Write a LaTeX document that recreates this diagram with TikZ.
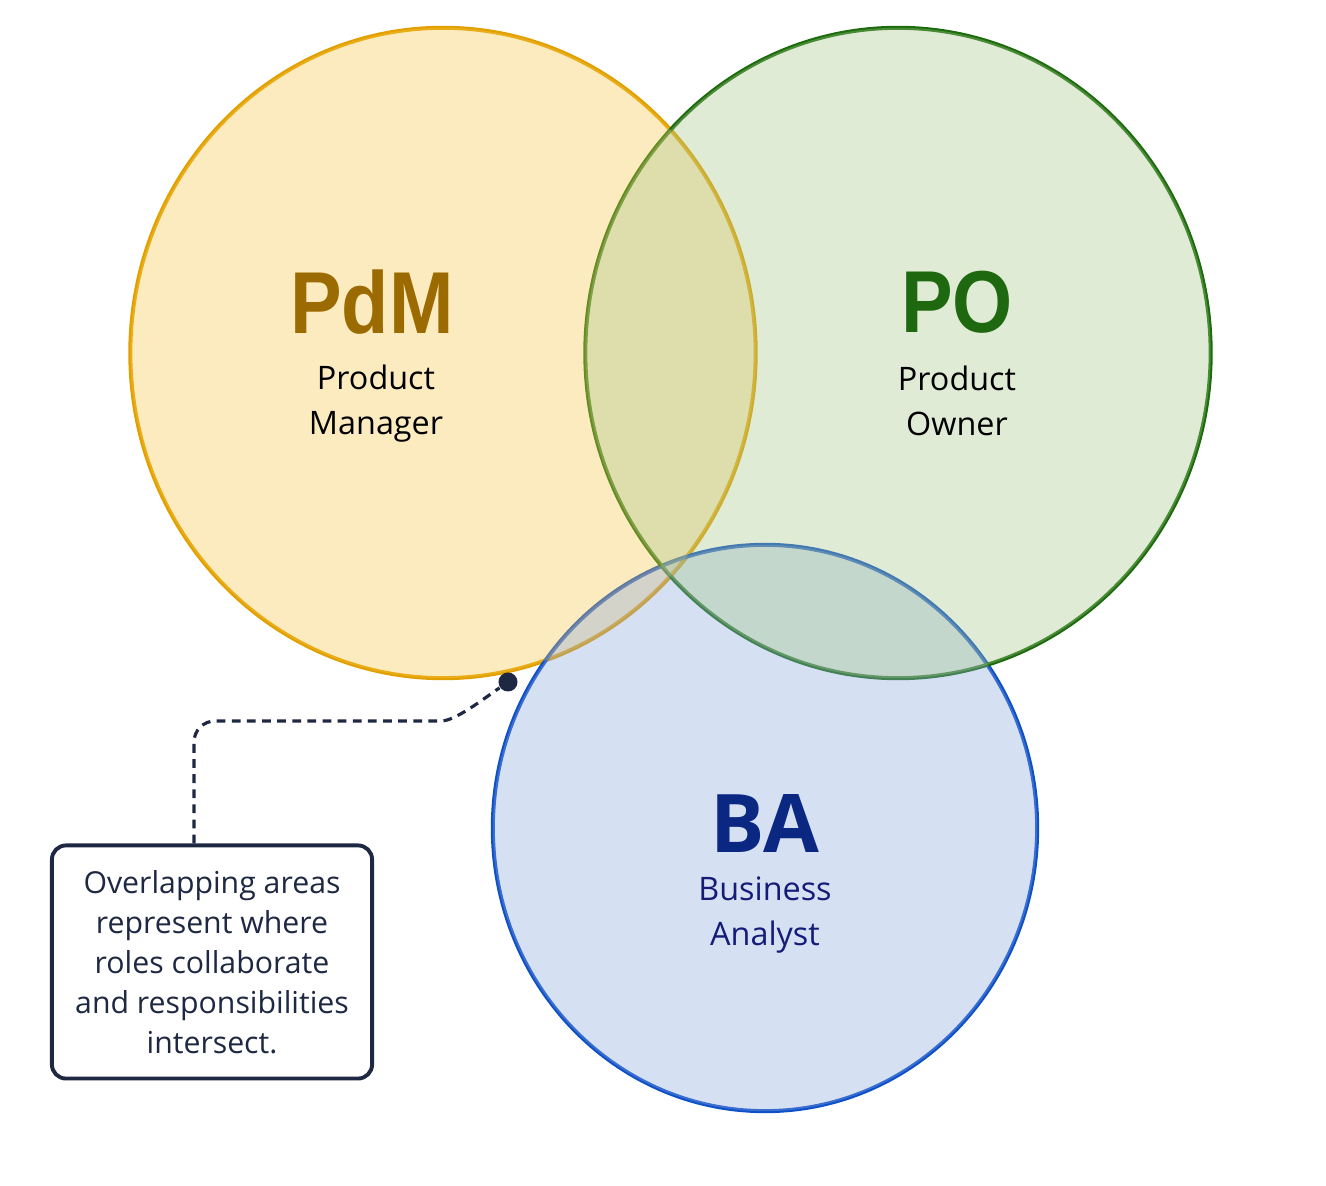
\documentclass[tikz,border=0pt]{standalone}
\usepackage{fontspec}
\setmainfont{Open Sans}
\newfontfamily\abbrfont[FakeStretch=0.88]{Liberation Sans}
\usepackage{tikz}
\usetikzlibrary{positioning, shapes.geometric}

\definecolor{pdmfill}{RGB}{249,198,75}
\definecolor{pdmline}{RGB}{226,160,0}
\definecolor{pdmtext}{RGB}{155,106,0}
\definecolor{pofill}{RGB}{164,198,135}
\definecolor{poline}{RGB}{28,108,14}
\definecolor{potext}{RGB}{30,105,15}
\definecolor{bafill}{RGB}{138,166,221}
\definecolor{baline}{RGB}{14,80,200}
\definecolor{batext}{RGB}{10,40,130}
\definecolor{basub}{RGB}{20,28,120}
\definecolor{notenavy}{RGB}{30,40,66}

\begin{document}
\begin{tikzpicture}[
  x=0.01cm, y=-0.01cm,
  ring/.style={ellipse, draw, line width=1.15pt, inner sep=0pt},
  disc/.style={ellipse, fill opacity=0.35, inner sep=0pt},
  bigrole/.style={minimum width=6.25cm, minimum height=6.5cm},
  smallrole/.style={minimum width=5.44cm, minimum height=5.66cm},
  abbr/.style={font=\abbrfont\bfseries\fontsize{25}{25}\selectfont},
  sub/.style={align=center, font=\fontsize{9.2}{12.8}\selectfont},
  note/.style={draw=notenavy, line width=1.1pt, rounded corners=4pt, align=center, fill=white,
    text=notenavy, minimum width=3.2cm, minimum height=2.33cm, font=\fontsize{8.6}{11.4}\selectfont},
  leader/.style={draw=notenavy, line width=0.9pt, dash pattern=on 2.5pt off 1.8pt, rounded corners=6pt}
]
\useasboundingbox (0,0) rectangle (1326,1186);

% Outlines of the three roles
\node[ring, bigrole, draw=pdmline] (pdm) at (443,353) {};
\node[ring, smallrole, draw=baline] (ba) at (765,828) {};
\node[ring, bigrole, draw=poline] (po) at (898,353) {};

% Tinted discs over the outlines
\node[disc, bigrole, fill=pdmfill] at (pdm) {};
\node[disc, smallrole, fill=bafill] at (ba) {};
\node[disc, bigrole, fill=pofill] at (po) {};

% Labels
\node[abbr, text=pdmtext] (pdmabbr) at (372,302) {PdM};
\node[sub] (pdmname) at (376,404) {Product\\Manager};

\node[abbr, text=potext] (poabbr) at (957,302) {PO};
\node[sub] (poname) at (957,401) {Product\\Owner};

\node[text=batext, font=\bfseries\fontsize{23}{23}\selectfont] (baabbr) at (765,824) {BA};
\node[sub, text=basub] (baname) at (765,915) {Business\\Analyst};

% Callout
\node[note] (remark) at (212,962) {Overlapping areas\\represent where\\roles collaborate\\and responsibilities\\intersect.};
\node[circle, fill=notenavy, inner sep=0pt, minimum size=0.19cm] (pin) at (508,682) {};
\draw[leader] ([xshift=-0.18cm]remark.north) -- (194,721) -- (420,721)
  .. controls (455,721) and (482,700) .. (pin);

\end{tikzpicture}
\end{document}
